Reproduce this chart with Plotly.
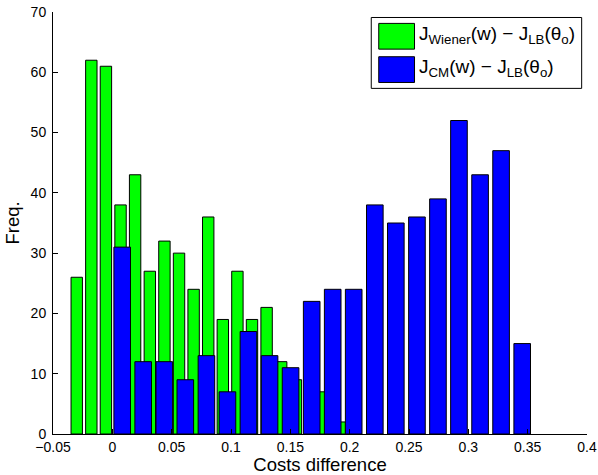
import plotly.graph_objects as go

# ---- data ----
wiener_centers = [-0.0300, -0.0177, -0.0054, 0.0069, 0.0192, 0.0316, 0.0439, 0.0562,
                  0.0685, 0.0808, 0.0931, 0.1054, 0.1177, 0.1300, 0.1423, 0.1547,
                  0.1670, 0.1793, 0.1916]
wiener_counts = [26, 62, 61, 38, 43, 27, 32, 30, 24, 36, 19, 27, 19, 21, 12, 9, 5, 7, 2]

cm_centers = [0.0083, 0.0260, 0.0438, 0.0615, 0.0793, 0.0970, 0.1147, 0.1325,
              0.1502, 0.1680, 0.1857, 0.2034, 0.2212, 0.2389, 0.2567, 0.2744,
              0.2921, 0.3099, 0.3276, 0.3454]
cm_counts = [31, 12, 12, 9, 13, 7, 17, 13, 11, 22, 24, 24, 38, 35, 36, 39, 52, 43, 47, 15]

wiener_bar_width = 0.0096
cm_bar_width = 0.0140

x_tickvals = [-0.05, 0, 0.05, 0.1, 0.15, 0.2, 0.25, 0.3, 0.35, 0.4]
x_ticktext = ["\u22120.05", "0", "0.05", "0.1", "0.15", "0.2", "0.25", "0.3", "0.35", "0.4"]
y_tickvals = [0, 10, 20, 30, 40, 50, 60, 70]

legend_labels = ["J<sub>Wiener</sub>(w) \u2212 J<sub>LB</sub>(\u03b8<sub>o</sub>)",
                 "J<sub>CM</sub>(w) \u2212 J<sub>LB</sub>(\u03b8<sub>o</sub>)"]

GREEN = "rgb(0,255,0)"
BLUE = "rgb(0,0,255)"
FONT = "Liberation Sans, Arial, Helvetica, sans-serif"

fig = go.Figure()
fig.add_trace(go.Bar(x=wiener_centers, y=wiener_counts, width=wiener_bar_width,
                     marker=dict(color=GREEN, line=dict(color="black", width=1)),
                     name="Wiener", showlegend=False))
fig.add_trace(go.Bar(x=cm_centers, y=cm_counts, width=cm_bar_width,
                     marker=dict(color=BLUE, line=dict(color="black", width=1)),
                     name="CM", showlegend=False))

# custom MATLAB-like legend
shapes = [
    dict(type="rect", xref="paper", yref="paper", x0=0.596, x1=0.990, y0=0.819, y1=0.987,
         line=dict(color="black", width=1), fillcolor="white", layer="above"),
    dict(type="rect", xref="paper", yref="paper", x0=0.610, x1=0.677, y0=0.912, y1=0.973,
         line=dict(color="black", width=1), fillcolor=GREEN, layer="above"),
    dict(type="rect", xref="paper", yref="paper", x0=0.610, x1=0.677, y0=0.833, y1=0.894,
         line=dict(color="black", width=1), fillcolor=BLUE, layer="above"),
]
annotations = [
    dict(xref="paper", yref="paper", x=0.681, y=0.946, xanchor="left", yanchor="middle",
         text=legend_labels[0], showarrow=False, font=dict(size=19, color="black", family=FONT)),
    dict(xref="paper", yref="paper", x=0.681, y=0.867, xanchor="left", yanchor="middle",
         text=legend_labels[1], showarrow=False, font=dict(size=19, color="black", family=FONT)),
]

fig.update_layout(
    width=598, height=475,
    margin=dict(l=53, r=10.5, t=12, b=41),
    paper_bgcolor="white", plot_bgcolor="white",
    barmode="overlay",
    font=dict(family=FONT, color="black"),
    shapes=shapes, annotations=annotations,
    showlegend=False,
)
fig.update_xaxes(range=[-0.05, 0.4], tickvals=x_tickvals, ticktext=x_ticktext,
                 ticks="inside", ticklen=5, tickcolor="black", showline=True,
                 linecolor="black", linewidth=1, showgrid=False, zeroline=False,
                 automargin=False, ticklabeloverflow="allow",
                 tickfont=dict(size=14, color="black"),
                 title=dict(text="Costs difference", font=dict(size=18.5, color="black"), standoff=2))
fig.update_yaxes(range=[0, 70], tickvals=y_tickvals,
                 ticks="inside", ticklen=5, tickcolor="black", showline=True,
                 linecolor="black", linewidth=1, showgrid=False, zeroline=False,
                 automargin=False, ticklabeloverflow="allow",
                 tickfont=dict(size=14, color="black"), ticklabelstandoff=3,
                 title=dict(text="Freq.", font=dict(size=18.5, color="black"), standoff=6))

# remove the default 8px page margin so the figure sits at the window's top-left corner
fig.write_html("out.html",
               config={"displayModeBar": False},
               post_script="document.body.style.margin='0';document.body.style.overflow='hidden';")
